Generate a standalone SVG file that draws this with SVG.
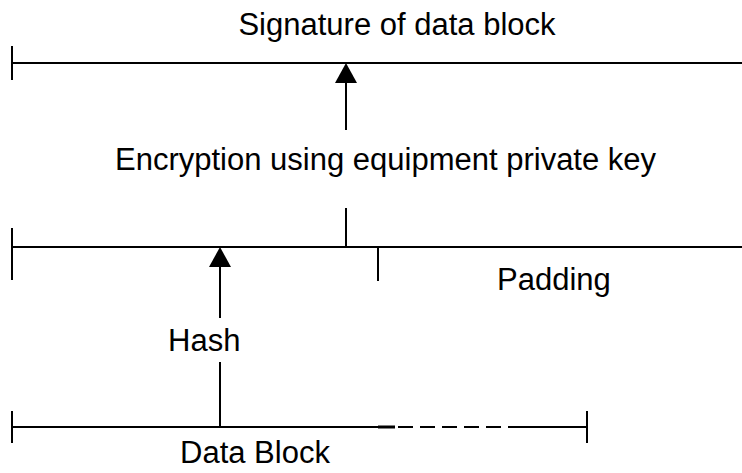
<svg xmlns="http://www.w3.org/2000/svg" width="742" height="473" viewBox="0 0 742 473">
<style>
.ln{stroke:#000;stroke-width:2;fill:none}
.lbl{font-family:"Liberation Sans",Arial,sans-serif;font-size:31px;fill:#000}
.hd{fill:#000}
</style>
<rect width="742" height="473" fill="#fff"/>
<g id="signature-block">
<line class="ln" x1="12" y1="63" x2="742" y2="63"/>
<line class="ln" x1="12" y1="46" x2="12" y2="80"/>
<text class="lbl" x="397" y="35" text-anchor="middle">Signature of data block</text>
</g>
<g id="hash-block">
<line class="ln" x1="12" y1="247" x2="742" y2="247"/>
<line class="ln" x1="12" y1="228" x2="12" y2="280"/>
<line class="ln" x1="378" y1="247" x2="378" y2="281"/>
<text class="lbl" x="497" y="290">Padding</text>
</g>
<g id="data-block">
<line class="ln" x1="12" y1="427" x2="378" y2="427"/>
<line x1="378" y1="427" x2="395" y2="427" stroke="#000" stroke-width="3"/>
<line class="ln" x1="398" y1="427" x2="522" y2="427" stroke-dasharray="15 7"/>
<line class="ln" x1="522" y1="427" x2="587" y2="427"/>
<line class="ln" x1="12" y1="411" x2="12" y2="443"/>
<line class="ln" x1="587" y1="411" x2="587" y2="443"/>
<text class="lbl" x="180" y="463">Data Block</text>
</g>
<g id="connectors">
<line class="ln" x1="346" y1="82" x2="346" y2="130"/>
<polygon class="hd" points="346,63 335,83 357,83"/>
<text class="lbl" x="115" y="170">Encryption using equipment private key</text>
<line class="ln" x1="346" y1="208" x2="346" y2="247"/>
<line class="ln" x1="220" y1="266" x2="220" y2="318"/>
<polygon class="hd" points="220,247 209,267 231,267"/>
<text class="lbl" x="168" y="351">Hash</text>
<line class="ln" x1="220" y1="362" x2="220" y2="427"/>
</g>
</svg>
